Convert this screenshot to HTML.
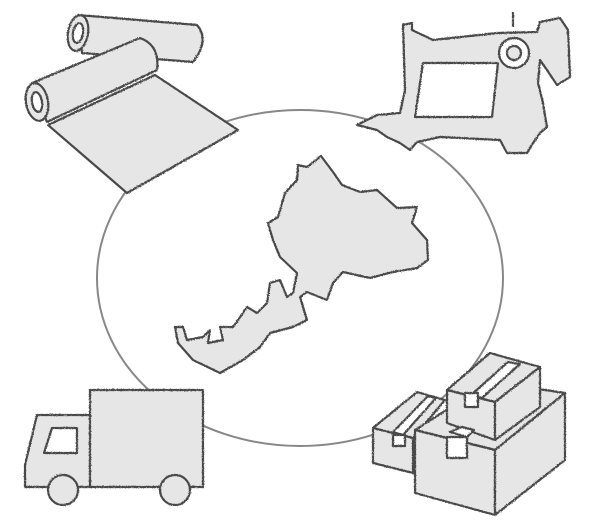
<!DOCTYPE html>
<html><head><meta charset="utf-8"><style>html,body{margin:0;padding:0;background:#fff}svg{display:block}</style></head>
<body>
<svg width="600" height="530" viewBox="0 0 600 530" xmlns="http://www.w3.org/2000/svg">
<defs>
<filter id="r" x="-5%" y="-5%" width="110%" height="110%">
<feTurbulence type="fractalNoise" baseFrequency="0.9" numOctaves="2" seed="3"/>
<feDisplacementMap in="SourceGraphic" scale="1.8"/>
</filter>
</defs>
<ellipse cx="300" cy="278" rx="203" ry="168" fill="none" stroke="#888" stroke-width="2"/>
<g fill="#e6e6e6" stroke="#4a4a4a" stroke-width="2.2" stroke-linejoin="round" filter="url(#r)">
<!-- fabric -->
<path d="M78,15 L197,25 Q210,40 193,62 L82,53 Z"/>
<ellipse cx="78" cy="33" rx="10" ry="18" transform="rotate(10 78 33)"/>
<ellipse cx="78" cy="33" rx="5" ry="10" transform="rotate(10 78 33)" fill="#fff"/>
<path d="M32,83 L140,38 Q160,45 157,70 L47,122 Z"/>
<ellipse cx="37" cy="102" rx="11" ry="19" transform="rotate(-10 37 102)"/>
<ellipse cx="37" cy="102" rx="5" ry="10" transform="rotate(-10 37 102)" fill="#fff"/>
<path d="M48,125 L155,75 L238,130 L127,193 Z"/>
<!-- sewing machine -->
<path d="M357,125 L377,115 L400,113 L405,90 L403,25 L412,23 L412,30 L433,40 L497,33 L537,32 L540,22 L560,18 L568,30 L570,77 L557,85 L547,70 L540,60 L538,83 L543,103 L547,127 L540,133 L533,143 L527,153 L507,153 L500,140 L440,137 L417,142 L410,150 L400,143 L387,137 L377,130 Z"/>
<path d="M423,63 L498,63 L492,117 L415,117 L420,83 Z" fill="#fff"/>
<line x1="513" y1="12" x2="513" y2="27"/>
<circle cx="514" cy="53" r="15" fill="#fff"/>
<circle cx="514" cy="53" r="7"/>
<!-- map -->
<path d="M321,156 L333,172 L342,185 L360,192 L377,190 L397,208 L417,207 L412,223 L427,240 L428,260 L417,268 L393,272 L370,278 L343,272 L333,283 L327,300 L307,292 L300,297 L307,320 L293,327 L270,333 L260,347 L243,360 L220,373 L193,360 L178,343 L175,327 L183,327 L187,340 L203,337 L210,330 L208,343 L223,340 L220,327 L233,327 L243,313 L247,307 L257,313 L267,303 L270,283 L280,280 L287,297 L293,293 L297,273 L280,257 L273,240 L268,223 L278,217 L285,193 L297,180 L298,165 L307,167 Z"/>
<!-- truck -->
<path d="M37,415 L90,415 L90,487 L25,487 L25,465 Z"/>
<rect x="90" y="390" width="113" height="97"/>
<path d="M52,428 L77,428 L77,453 L44,453 Z" fill="#fff"/>
<circle cx="63" cy="490" r="15"/>
<circle cx="175" cy="490" r="15"/>
<!-- boxes -->
<path d="M373,428 L417,392 L445,400 L413,438 Z"/>
<path d="M373,428 L413,438 L413,473 L373,463 Z"/>
<path d="M415,430 L490,382 L565,393 L495,450 Z"/>
<path d="M415,430 L495,450 L495,515 L415,493 Z"/>
<path d="M495,450 L565,393 L565,460 L495,515 Z"/>
<path d="M447,390 L490,353 L540,367 L495,402 Z"/>
<path d="M447,390 L495,402 L495,440 L447,423 Z"/>
<path d="M495,402 L540,367 L540,407 L495,440 Z"/>
<path d="M470,396 L508,362 L520,364 L482,398 Z" fill="#fff"/>
<rect x="465" y="393" width="13" height="14" fill="#fff"/>
<path d="M393,432 L428,396 L436,398 L403,435 Z" fill="#fff"/>
<rect x="393" y="435" width="12" height="11" fill="#fff"/>
<path d="M450,432 L462,427 L474,430 L467,437 Z" fill="#fff"/>
<rect x="447" y="437" width="20" height="21" fill="#fff"/>
</g>
</svg>
</body></html>
